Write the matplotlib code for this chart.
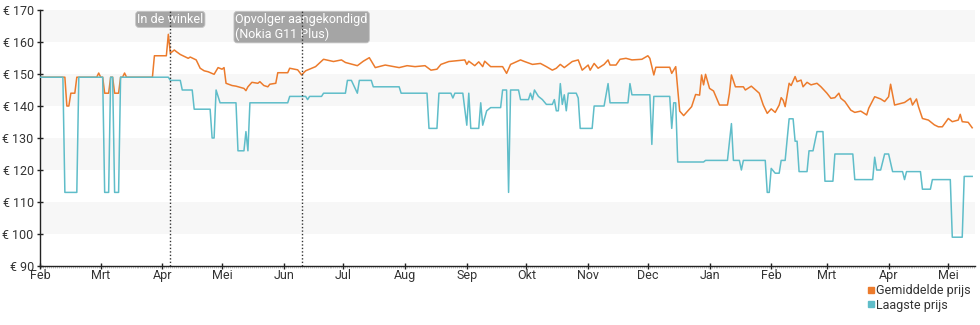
import numpy as np
import pandas as pd
import matplotlib.pyplot as plt
import matplotlib.dates as mdates
from matplotlib.lines import Line2D

plt.rcParams['font.family'] = ['Roboto', 'DejaVu Sans']

ORANGE = '#ec7b2c'
TEAL = '#5fbdc9'

# dagen sinds 1 feb 2022
START = pd.Timestamp('2022-02-01')

# laagste prijs
low_day = [-3, 9, 10, 16, 17, 29, 30, 32, 33, 34, 35, 37, 38, 62, 63, 68, 69, 74, 75, 83,
           84, 85, 86, 88, 96, 97, 100, 101, 102, 103, 122, 123, 131, 132, 133, 139, 140, 151, 152, 154,
           157, 158, 164, 165, 178, 179, 192, 193, 197, 198, 204, 205, 206, 210, 212, 213, 214, 218, 219, 220,
           222, 224, 229, 230, 232, 233, 234, 238, 239, 243, 244, 245, 246, 248, 250, 252, 255, 256, 257, 258,
           259, 260, 261, 262, 263, 267, 268, 269, 275, 276, 281, 283, 284, 293, 294, 295, 304, 305, 306, 314,
           315, 316, 317, 318, 331, 332, 343, 345, 346, 349, 350, 351, 362, 363, 364, 365, 367, 369, 370, 372,
           374, 376, 377, 378, 379, 383, 384, 386, 388, 391, 392, 396, 397, 406, 407, 416, 417, 418, 420, 422,
           424, 426, 431, 432, 433, 440, 441, 445, 446, 455, 456, 461, 462, 466]
low_price = [149, 149, 113, 113, 149, 149, 113, 113, 149, 149, 113, 113, 149, 149, 148, 148, 145, 145, 139, 139,
             130, 130, 145, 141, 141, 126, 126, 132, 126, 141, 141, 143, 143, 142, 143, 143, 144, 144, 148, 148,
             144, 148, 148, 146, 146, 144, 144, 133, 133, 144, 144, 142.5, 144, 144, 134, 144, 133, 133, 141, 134,
             138.5, 139.5, 139.5, 145, 145, 113, 145, 145, 142, 142, 144, 142, 145, 143, 142, 140.5, 140.5, 142, 138.5, 138.5,
             147, 140.5, 143.5, 138.5, 144, 144, 142.5, 133, 133, 140, 140, 147, 141, 141, 147, 143.5, 143.5, 128, 143, 143,
             133, 141, 141, 122.5, 122.5, 123, 123, 134.5, 123, 123, 120, 123, 123, 113, 113, 120.5, 119, 119, 123, 123,
             136, 136, 129, 129, 119.5, 119.5, 126, 126, 132, 132, 116.5, 116.5, 125, 125, 117, 117, 124, 120, 120, 125,
             125, 119.5, 119.5, 117, 119.5, 119.5, 114, 114, 117, 117, 99, 99, 118, 118]

# gemiddelde prijs
avg_day = [-3, 10, 11, 12, 13, 15, 16, 26, 27, 28, 29, 30, 32, 33, 34, 35, 37, 38, 39, 40,
           41, 54, 55, 61, 62, 63, 65, 66, 68, 70, 72, 73, 76, 78, 80, 82, 85, 87, 89, 90,
           91, 94, 96, 100, 101, 102, 104, 107, 108, 110, 112, 113, 116, 117, 122, 123, 127, 129, 131, 136,
           140, 145, 149, 151, 157, 160, 163, 166, 171, 178, 182, 186, 191, 194, 197, 199, 203, 211, 212, 213,
           216, 218, 220, 221, 224, 230, 232, 234, 239, 241, 245, 249, 252, 255, 257, 259, 261, 265, 268, 270,
           273, 274, 276, 278, 281, 283, 284, 287, 289, 292, 295, 300, 303, 304, 306, 307, 314, 315, 317, 319,
           321, 323, 325, 327, 329, 330, 331, 332, 334, 336, 339, 343, 344, 345, 347, 351, 352, 355, 359, 361,
           363, 365, 367, 369, 370, 371, 372, 374, 375, 377, 378, 380, 381, 383, 385, 388, 390, 393, 395, 397,
           399, 400, 402, 405, 407, 410, 413, 414, 417, 420, 422, 424, 425, 427, 432, 435, 436, 438, 439, 441,
           444, 447, 449, 451, 454, 456, 459, 460, 461, 464, 466]
avg_price = [149, 149, 140, 140, 144, 144, 149, 149, 150.3, 149, 149, 144, 144, 149, 149, 144, 144, 149, 149, 150.3,
             149, 149, 155.7, 155.7, 162.4, 156.5, 157.5, 157, 156.1, 155.5, 154.9, 155.3, 154.4, 151.8, 151, 150.7, 149.9, 152, 151.5, 152,
             147.1, 146.4, 146.2, 145.5, 144.8, 146, 147.4, 147.1, 147.6, 146.4, 146, 146.8, 147.1, 150.4, 150.4, 151.8, 151.3, 149.7, 151, 152.3,
             154.6, 153.9, 154.4, 153.6, 152.6, 154, 155.1, 152, 152.8, 152, 152.6, 152.3, 152.6, 151.2, 151.5, 153, 153.9, 154.4, 153, 154,
             152.6, 153.8, 152.3, 154, 152.3, 152.3, 150.2, 153, 154.4, 153.9, 153, 153.3, 152.3, 151.2, 151.8, 153, 152, 153.9, 154.4, 151.2,
             152.8, 151.2, 153.3, 151.8, 153, 154.4, 152.8, 152.8, 154.6, 154.9, 154.4, 154.6, 155.7, 154.9, 149.7, 152.1, 152.1, 150.2, 152.3, 138.4,
             137, 138.4, 139.8, 143.6, 143.4, 149.7, 146.6, 149.9, 145.5, 144.7, 140.3, 140.3, 144, 149.7, 146, 146, 145, 146.2, 144, 140.3,
             137.7, 139.1, 138, 140.3, 142.6, 141.8, 139.8, 147.1, 146.4, 149.2, 147.6, 148.1, 146, 147.4, 146.6, 147.1, 146, 144, 142.4, 142.6,
             144, 142.4, 141.4, 138.7, 138, 138.4, 137.2, 139.3, 142.9, 142.2, 141.4, 142.9, 146.8, 140.3, 141.1, 142.4, 140.3, 142.2, 139.8, 136.1,
             135.6, 134.1, 133.5, 133.5, 136.1, 135.1, 135.6, 137.4, 135.1, 134.9, 133.2]

month_labels = ['Feb', 'Mrt', 'Apr', 'Mei', 'Jun', 'Jul', 'Aug', 'Sep', 'Okt', 'Nov', 'Dec',
                'Jan', 'Feb', 'Mrt', 'Apr', 'Mei']
events = [('2022-04-05', 'In de winkel'),
          ('2022-06-10', 'Opvolger aangekondigd\n(Nokia G11 Plus)')]
legend_labels = ['Gemiddelde prijs', 'Laagste prijs']

low_dates = START + pd.to_timedelta(low_day, unit='D')
avg_dates = START + pd.to_timedelta(avg_day, unit='D')

x_left = pd.Timestamp('2022-01-29 12:00')
x_right = pd.Timestamp('2023-05-14 10:00')

fig = plt.figure(figsize=(9.8, 3.25), dpi=100)
ax = fig.add_axes([40 / 980, 59 / 325, 935 / 980, 256 / 325])

# grijze banden
for lo in (100, 120, 140, 160):
    ax.axhspan(lo, lo + 10, color='#f7f7f7', lw=0, zorder=0)

ax.plot(avg_dates, avg_price, color=ORANGE, lw=1.1, zorder=2)
ax.plot(low_dates, low_price, color=TEAL, lw=1.1, zorder=3)

for d, label in events:
    d = pd.Timestamp(d)
    ax.axvline(d, color='#333333', lw=1, ls=(0, (1, 1.5)), zorder=5)
    ax.text(d, 169.1, label, ha='center', va='top', multialignment='left',
            color='white', fontsize=9, zorder=4,
            bbox=dict(boxstyle='round,pad=0.12,rounding_size=0.25',
                      fc='#a5a5a5', ec='#c4c4c4', lw=0.6))

ax.set_xlim(x_left, x_right)
ax.set_ylim(90, 170)
ax.set_yticks(range(90, 171, 10))
ax.set_yticklabels([f'€ {v}' for v in range(90, 171, 10)])

ticks = [x_left] + list(pd.date_range('2022-03-01', '2023-05-01', freq='MS'))
ax.set_xticks(ticks)
ax.set_xticklabels(month_labels)
ax.xaxis.set_minor_locator(mdates.DayLocator())

for side in ('top', 'right'):
    ax.spines[side].set_visible(False)
for side in ('left', 'bottom'):
    ax.spines[side].set_color('#222222')
    ax.spines[side].set_linewidth(1)

ax.tick_params(axis='y', direction='inout', length=5, width=1, color='#222222',
               labelcolor='#333333', labelsize=9, pad=2)
ax.tick_params(axis='x', which='major', direction='inout', length=4, width=1,
               color='#222222', labelcolor='#333333', labelsize=9, pad=0)
ax.tick_params(axis='x', which='minor', direction='out', length=1.5, width=0.4,
               color='#999999')

handles = [Line2D([], [], marker='s', ls='', color=c, markersize=5, label=l)
           for c, l in zip([ORANGE, TEAL], legend_labels)]
fig.legend(handles=handles, loc='lower right', bbox_to_anchor=(977 / 980, 7 / 325),
           frameon=False, fontsize=9, handletextpad=0.1, labelspacing=0.15,
           borderpad=0, handlelength=0.7, labelcolor='#333333')

fig.savefig('out.png', dpi=100)
